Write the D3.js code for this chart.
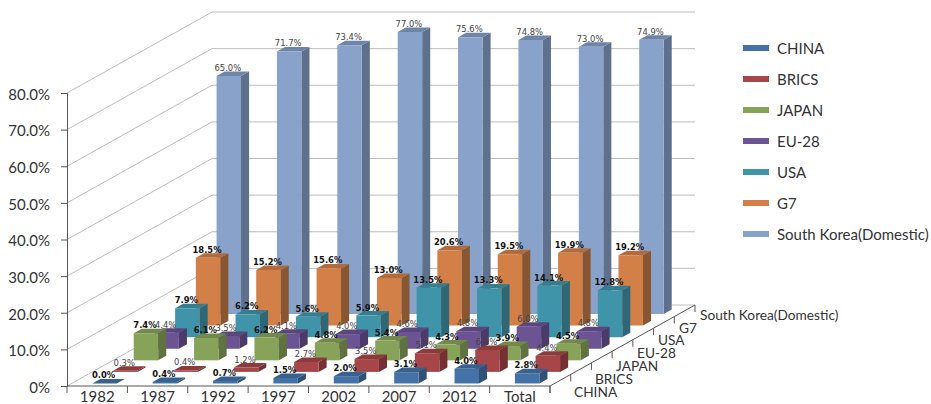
<!DOCTYPE html>
<html>
<head>
<meta charset="utf-8">
<script src="https://cdn.jsdelivr.net/npm/d3@7/dist/d3.min.js"></script>
<style>
html,body{margin:0;padding:0;background:#fff;}
svg{display:block;}
text{font-family:Lato,"Open Sans",sans-serif;fill:#333;}
</style>
</head>
<body>
<svg id="chart" width="931" height="404"></svg>
<script>
// Shares by partner group and period
const periods = ["1982","1987","1992","1997","2002","2007","2012","Total"];
const seriesNames = ["CHINA","BRICS","JAPAN","EU-28","USA","G7","South Korea(Domestic)"];
const china = [0.0,0.4,0.7,1.5,2.0,3.1,4.0,2.8];
const brics = [0.3,0.4,1.2,2.7,3.5,5.1,6.0,4.4];
const japan = [7.4,6.1,6.2,4.8,5.4,4.3,3.9,4.5];
const eu28 = [4.4,3.5,4.1,4.0,4.6,4.8,6.0,4.8];
const usa = [7.9,6.2,5.6,5.9,13.5,13.3,14.1,12.8];
const g7 = [18.5,15.2,15.6,13.0,20.6,19.5,19.9,19.2];
const southKorea = [65.0,71.7,73.4,77.0,75.6,74.8,73.0,74.9];
const yTicks = [0,10,20,30,40,50,60,70,80];

const seriesValues = [china,brics,japan,eu28,usa,g7,southKorea];
const frontColors = ["#4472a6","#a64648","#87a259","#6c5393","#3f94aa","#d27f48","#89a2c9"];
const topColors   = ["#39618d","#8c3b3d","#72894b","#5b467c","#357d90","#b16b3c","#6f85a8"];
const sideColors  = ["#2f5176","#743032","#5f7240","#4c3a68","#2f6776","#885631","#5f708c"];
const boldLabels  = [true,false,true,false,true,true,false];

const svg = d3.select("#chart");

// Oblique projection: depth runs from the front edge to the back wall
const depthDX = 145, depthDY = -81;
const x = d3.scaleBand().domain(periods).range([67,550]).paddingInner(0.595).paddingOuter(0.2975);
const z = d3.scaleBand().domain(seriesNames).range([0,1]).paddingInner(0.61).paddingOuter(0.305);
const y = d3.scaleLinear().domain([0,80]).range([386,93]);
const step = x.step();
const project = (px, d, v) => [px + d*depthDX, y(v) + d*depthDY];
const pts = a => a.map(p => p.join(",")).join(" ");

// Walls
const grid = svg.append("g").attr("stroke","#bdbdbd").attr("stroke-width",1).attr("fill","none");
yTicks.forEach(t => {
  const a = project(67,0,t), b = project(67,1,t), c = project(550,1,t);
  grid.append("polyline").attr("points",pts([a,b,c]));
});

// Depth axis and floor edge
const axisColor = "#555";
const depthAxis = svg.append("g").attr("stroke",axisColor).attr("fill","none");
depthAxis.append("line")
  .attr("x1",550).attr("y1",386)
  .attr("x2",550+depthDX).attr("y2",386+depthDY);
d3.range(seriesNames.length+1).forEach(i => {
  const p = project(550,i/seriesNames.length,0);
  depthAxis.append("line").attr("x1",p[0]).attr("y1",p[1]).attr("x2",p[0]).attr("y2",p[1]+7);
});

// Bars, back row first so nearer rows overlap them
const barNudge = 1;
const bars = svg.append("g");
const barW = x.bandwidth(), barD = z.bandwidth();
d3.range(seriesNames.length-1,-1,-1).forEach(s => {
  const name = seriesNames[s];
  periods.forEach((per,i) => {
    const v = seriesValues[s][i];
    const l = x(per)+barNudge, r = l+barW;
    const d0 = z(name), d1 = d0+barD;
    const g = bars.append("g").attr("transform",`translate(0,${barNudge})`);
    g.append("polygon").attr("fill",sideColors[s])
      .attr("points",pts([project(r,d0,0),project(r,d1,0),project(r,d1,v),project(r,d0,v)]));
    g.append("polygon").attr("fill",topColors[s])
      .attr("points",pts([project(l,d0,v),project(r,d0,v),project(r,d1,v),project(l,d1,v)]));
    g.append("polygon").attr("fill",frontColors[s])
      .attr("points",pts([project(l,d0,0),project(r,d0,0),project(r,d0,v),project(l,d0,v)]));
  });
});

// Value labels over each bar
const labels = svg.append("g").attr("text-anchor","middle");
d3.range(seriesNames.length-1,-1,-1).forEach(s => {
  const name = seriesNames[s];
  periods.forEach((per,i) => {
    const v = seriesValues[s][i];
    const p = project(x(per)+barNudge+barW/2-1, z(name), v);
    labels.append("text")
      .attr("x",p[0]).attr("y",p[1]-4)
      .style("font-family","'DejaVu Sans',sans-serif")
      .style("font-size","8.4px")
      .style("font-weight",boldLabels[s]?"700":"400")
      .style("fill",boldLabels[s]?"#111":"#444")
      .text(v.toFixed(1)+"%");
  });
});

// Value axis
const yAxis = svg.append("g").attr("transform","translate(67,0)")
  .call(d3.axisLeft(y).tickValues(yTicks).tickSize(6).tickPadding(11)
    .tickFormat(t => t===0 ? "0%" : t.toFixed(1)+"%"));
yAxis.selectAll("path,line").attr("stroke",axisColor);
yAxis.selectAll("text").attr("dy","0.42em").style("font-size","15px").style("fill","#333");

// Period axis: ticks sit on band boundaries, labels on band centres
const xAxis = svg.append("g").attr("transform","translate(0,386)")
  .call(d3.axisBottom(x).tickSize(0).tickPadding(5));
xAxis.selectAll("path").attr("stroke",axisColor).attr("d","M67,0H550");
xAxis.selectAll("text").style("font-size","15px").style("fill","#333");
d3.range(periods.length+1).forEach(i => {
  const px = 67+i*step;
  xAxis.append("line").attr("x1",px).attr("x2",px).attr("y1",0).attr("y2",7).attr("stroke",axisColor);
});

// Depth axis labels
const depthLabelPos = d3.scalePoint().domain(seriesNames).range([0,1]);
const depthLabelX = d3.scaleLinear().domain([0,1]).range([574,700]);
const depthLabelY = d3.scaleLinear().domain([0,1]).range([392,315]);
svg.append("g").selectAll("text").data(seriesNames).join("text")
  .attr("x",d => depthLabelX(depthLabelPos(d)))
  .attr("y",d => depthLabelY(depthLabelPos(d)))
  .attr("dy","0.35em")
  .style("font-size","13.7px")
  .text(d => d);

// Legend
const legendRow = d3.scalePoint().domain(seriesNames).range([48,234]);
const legend = svg.append("g");
legend.selectAll("rect").data(seriesNames).join("rect")
  .attr("x",743).attr("width",26).attr("height",6)
  .attr("y",d => legendRow(d)-3)
  .attr("fill",(d,i) => frontColors[i]);
legend.selectAll("text").data(seriesNames).join("text")
  .attr("x",777).attr("y",d => legendRow(d)).attr("dy","0.42em")
  .style("font-size","15px")
  .text(d => d);
</script>
</body>
</html>
